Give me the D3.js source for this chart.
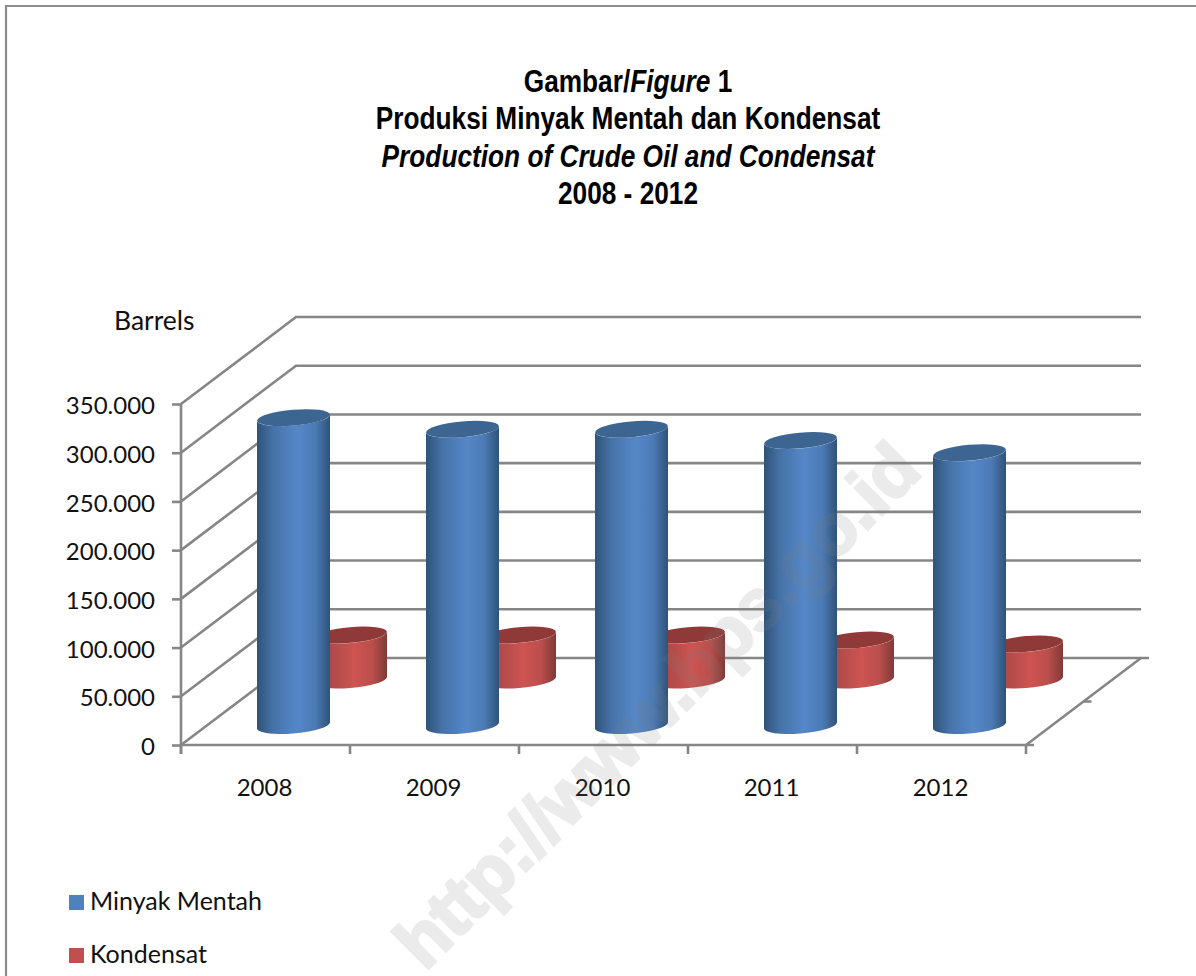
<!DOCTYPE html>
<html>
<head>
<meta charset="utf-8">
<script src="https://cdn.jsdelivr.net/npm/d3@7"></script>
<style>
  html, body { margin: 0; padding: 0; background: #fff; }
  svg { display: block; }
  .lbl { font-family: Lato, "Open Sans", sans-serif; fill: #111; font-size: 24px; }
  .ttl { font-family: "Liberation Sans", sans-serif; font-weight: 700; fill: #000; font-size: 29px; text-anchor: middle; }
</style>
</head>
<body>
<svg id="chart" width="1196" height="976"></svg>
<script>
const years = ['2008', '2009', '2010', '2011', '2012'];
const minyakMentah = [316000, 304000, 304000, 292500, 280000];
const kondensat = [46200, 46200, 46200, 41000, 37000];
const yTicks = [0, 50000, 100000, 150000, 200000, 250000, 300000, 350000];
const BLUE = { top: '#3d6591', edge: '#2f5379', mid: '#5587c8', swatch: '#4f81bd', dx: 28, lift: 19.5 };
const RED = { top: '#8f3a38', edge: '#7f3a38', mid: '#cd5452', swatch: '#c0504d', dx: 85, lift: 65 };

const svg = d3.select('#chart');
const AXIS = '#868686';
const AXIS_W = 2.6;

// the "3d box": front plane plus a fixed shift to the back wall
const DEPTH_X = 115, DEPTH_Y = 87;
const y = d3.scaleLinear().domain([0, 350000]).range([745, 404]);
const x = d3.scaleBand().domain(years).range([181, 1026]);

// frame of the page
svg.append('path')
  .attr('d', 'M6,976V6H1196')
  .attr('fill', 'none').attr('stroke', '#8c8c8c').attr('stroke-width', 2.2);

// gradients run across each cylinder
const defs = svg.append('defs');
[['blueBody', BLUE], ['redBody', RED]].forEach(([id, c]) => {
  const g = defs.append('linearGradient').attr('id', id);
  g.append('stop').attr('offset', 0).attr('stop-color', c.edge);
  g.append('stop').attr('offset', 0.22).attr('stop-color', d3.interpolateRgb(c.edge, c.mid)(0.6));
  g.append('stop').attr('offset', 0.55).attr('stop-color', c.mid);
  g.append('stop').attr('offset', 0.8).attr('stop-color', d3.interpolateRgb(c.edge, c.mid)(0.75));
  g.append('stop').attr('offset', 1).attr('stop-color', c.edge);
});

// back wall + side wall gridlines
const grid = svg.append('g').attr('fill', 'none').attr('stroke', AXIS).attr('stroke-width', AXIS_W);
yTicks.forEach((t) => {
  const py = y(t);
  grid.append('path').attr('d', `M${x.range()[0]},${py}L${x.range()[0] + DEPTH_X},${py - DEPTH_Y}H${x.range()[1] + DEPTH_X}`);
});
// floor and its depth axis
const fy = y(0), rx = x.range()[1];
grid.append('path').attr('d', `M${rx},${fy}L${rx + DEPTH_X},${fy - DEPTH_Y}h8`);
grid.append('path').attr('d', `M${rx + DEPTH_X / 2},${fy - DEPTH_Y / 2}h8`);

// y axis
const fmt = d3.formatLocale({ decimal: ',', thousands: '.', grouping: [3], currency: ['', ''] }).format(',d');
const yAxis = svg.append('g').attr('transform', 'translate(181,0)')
  .call(d3.axisLeft(y).tickValues(yTicks).tickFormat(fmt).tickSize(9).tickPadding(17));
yAxis.select('.domain').remove();
yAxis.append('line').attr('y1', y(350000)).attr('y2', y(0) + 9);
yAxis.selectAll('line').attr('stroke', AXIS).attr('stroke-width', AXIS_W);
yAxis.selectAll('text').attr('class', 'lbl').attr('font-family', null).attr('font-size', null)
  .attr('dy', '0.4em');

// x axis, labels sit mid-band and ticks on the band edges
const xAxis = svg.append('g').attr('transform', `translate(0,${y(0)})`)
  .call(d3.axisBottom(x).tickSize(0).tickPadding(34));
xAxis.select('.domain').remove();
xAxis.selectAll('text').attr('class', 'lbl').attr('font-family', null).attr('font-size', null)
  .attr('dx', -1);
xAxis.append('line').attr('x1', x.range()[0]).attr('x2', x.range()[1] + 8)
  .attr('stroke', AXIS).attr('stroke-width', AXIS_W);
x.domain().concat(['end']).forEach((yr, i) => {
  const px = x.range()[0] + i * x.step();
  xAxis.append('line').attr('x1', px).attr('x2', px).attr('y1', 0).attr('y2', 9)
    .attr('stroke', AXIS).attr('stroke-width', AXIS_W);
});

// tilted ellipse: half width W, half height H, lean of the caps
const W = 36.5, H = 8.5, TILT = 5 * Math.PI / 180;
const A = W;
const B = Math.sqrt(H * H - (A * Math.sin(TILT)) ** 2);
const EDGE = (A * A - B * B) * Math.sin(TILT) * Math.cos(TILT) / W; // y shift of the side tangents
const TILT_DEG = -5;

function cylinder(g, cx, top, base, c, bodyId) {
  const body = `M${cx - W},${top + EDGE}V${base + EDGE}`
    + `A${A},${B} ${TILT_DEG} 0 0 ${cx + W},${base - EDGE}`
    + `V${top - EDGE}A${A},${B} ${TILT_DEG} 0 1 ${cx - W},${top + EDGE}Z`;
  g.append('path').attr('d', body).attr('fill', `url(#${bodyId})`);
  g.append('ellipse').attr('rx', A).attr('ry', B).attr('fill', c.top)
    .attr('transform', `translate(${cx},${top}) rotate(${TILT_DEG})`);
}

function series(values, c, bodyId) {
  const g = svg.append('g');
  values.forEach((v, i) => {
    const cx = x(years[i]) + x.bandwidth() / 2 + c.dx;
    const h = y(0) - y(v);
    const base = y(0) - c.lift;
    cylinder(g, cx, base - h, base, c, bodyId);
  });
}
// kondensat stands behind minyak mentah
series(kondensat, RED, 'redBody');
series(minyakMentah, BLUE, 'blueBody');

// title, squeezed since no narrow face is installed
const titleLines = [
  [['Gambar/', 'normal'], ['Figure', 'italic'], [' 1', 'normal']],
  [['Produksi Minyak Mentah dan Kondensat', 'normal']],
  [['Production of Crude Oil and Condensat', 'italic']],
  [['2008 - 2012', 'normal']],
];
titleLines.forEach((parts, i) => {
  const t = svg.append('text').attr('class', 'ttl')
    .attr('transform', `translate(628,${92 + i * 37.3}) scale(0.905,1.06)`);
  parts.forEach(([s, style]) => t.append('tspan').attr('font-style', style).text(s));
});

svg.append('text').attr('class', 'lbl').attr('x', 114).attr('y', 330)
  .style('font-size', '26.5px').text('Barrels');

// legend
[['Minyak Mentah', BLUE.swatch], ['Kondensat', RED.swatch]].forEach(([name, col], i) => {
  const ly = 895 + i * 53;
  svg.append('rect').attr('x', 69).attr('y', ly).attr('width', 15).attr('height', 15).attr('fill', col);
  svg.append('text').attr('class', 'lbl').attr('x', 90).attr('y', ly + 15)
    .style('font-size', '25px').text(name);
});

// watermark sits over everything
svg.append('text')
  .attr('transform', 'translate(425,972) rotate(-45)')
  .attr('font-family', '"Liberation Sans", Arial, sans-serif')
  .attr('font-weight', 700).attr('font-size', 72)
  .attr('fill', '#808080').attr('stroke', '#808080').attr('stroke-width', 3)
  .attr('opacity', 0.15)
  .text('http://www.bps.go.id');
</script>
</body>
</html>
